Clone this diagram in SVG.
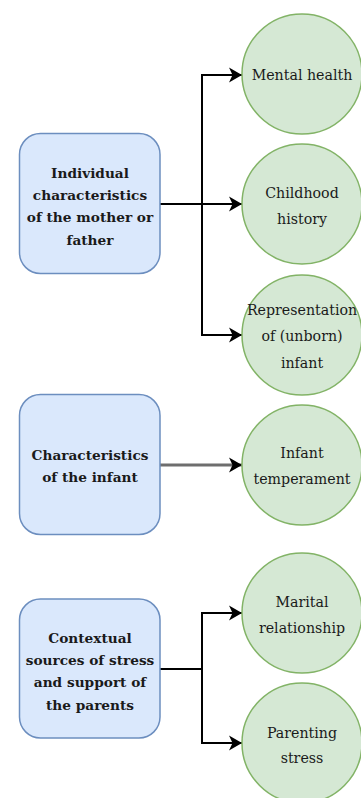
<svg xmlns="http://www.w3.org/2000/svg" width="361" height="798" viewBox="0 0 361 798">
  <defs>
    <marker id="arrow" markerUnits="userSpaceOnUse" markerWidth="14" markerHeight="16" refX="13" refY="7.5" orient="auto" viewBox="0 0 14 15">
      <path d="M0,0 L13,7.5 L0,15 L3.5,7.5 Z" fill="#000"/>
    </marker>
  </defs>
  <style>
    .box { fill: #dae8fc; stroke: #6c8ebf; stroke-width: 1.5; }
    .circ { fill: #d5e8d4; stroke: #82b366; stroke-width: 1.5; }
    text { font-family: 'DejaVu Serif', 'Liberation Serif', serif; font-size: 14.2px; fill: #1a1a1a; text-anchor: middle; }
    .bt { font-weight: bold; font-size: 13.7px; }
    .edge { fill: none; stroke: #000; stroke-width: 2; marker-end: url(#arrow); }
    .edge-gray { fill: none; stroke: #6e6e6e; stroke-width: 3; marker-end: url(#arrow); }
  </style>

  <g id="connectors">
    <path class="edge" d="M160,204 H202 V75 H242"/>
    <path class="edge" d="M160,204 H242"/>
    <path class="edge" d="M160,204 H202 V335 H242"/>
    <path class="edge-gray" d="M160,465 H242"/>
    <path class="edge" d="M160,669 H202 V613 H242"/>
    <path class="edge" d="M160,669 H202 V743 H242"/>
  </g>

  <g id="box-individual">
    <rect class="box" x="19.5" y="133.5" width="140.5" height="140" rx="21" ry="21"/>
    <text class="bt" x="90" y="178">Individual</text>
    <text class="bt" x="90" y="200">characteristics</text>
    <text class="bt" x="90" y="222">of the mother or</text>
    <text class="bt" x="90" y="245">father</text>
  </g>

  <g id="box-infant">
    <rect class="box" x="19.5" y="394.5" width="140.5" height="140" rx="21" ry="21"/>
    <text class="bt" x="90" y="460">Characteristics</text>
    <text class="bt" x="90" y="482">of the infant</text>
  </g>

  <g id="box-contextual">
    <rect class="box" x="19.5" y="599" width="140.5" height="139" rx="21" ry="21"/>
    <text class="bt" x="90" y="643">Contextual</text>
    <text class="bt" x="90" y="665">sources of stress</text>
    <text class="bt" x="90" y="687">and support of</text>
    <text class="bt" x="90" y="710">the parents</text>
  </g>

  <g id="circle-mental-health">
    <circle class="circ" cx="302" cy="74" r="60"/>
    <text x="302" y="80">Mental health</text>
  </g>

  <g id="circle-childhood-history">
    <circle class="circ" cx="302" cy="204" r="60"/>
    <text x="302" y="198">Childhood</text>
    <text x="302" y="224">history</text>
  </g>

  <g id="circle-representation">
    <circle class="circ" cx="302" cy="335" r="60"/>
    <text x="302" y="315">Representation</text>
    <text x="302" y="341">of (unborn)</text>
    <text x="302" y="368">infant</text>
  </g>

  <g id="circle-infant-temperament">
    <circle class="circ" cx="302" cy="465" r="60"/>
    <text x="302" y="458">Infant</text>
    <text x="302" y="484">temperament</text>
  </g>

  <g id="circle-marital">
    <circle class="circ" cx="302" cy="613" r="60"/>
    <text x="302" y="607">Marital</text>
    <text x="302" y="633">relationship</text>
  </g>

  <g id="circle-parenting-stress">
    <circle class="circ" cx="302" cy="743" r="60"/>
    <text x="302" y="738">Parenting</text>
    <text x="302" y="763">stress</text>
  </g>
</svg>
